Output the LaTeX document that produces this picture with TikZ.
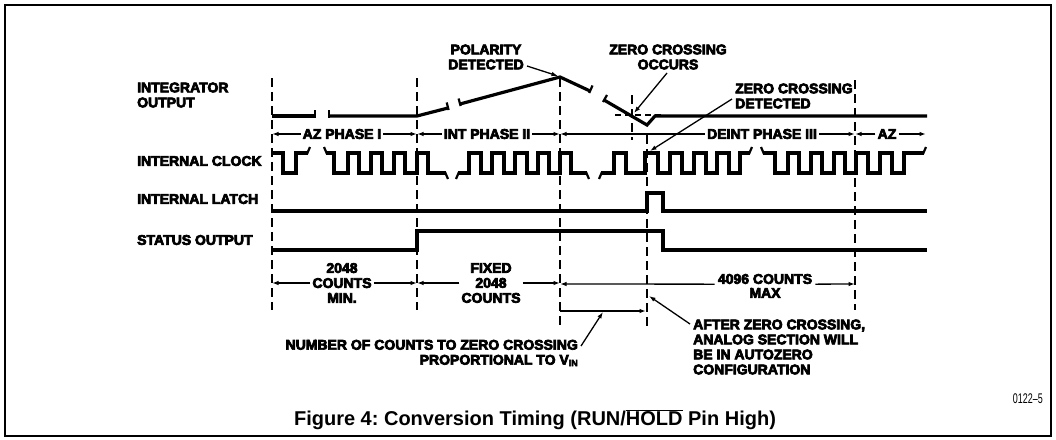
\documentclass[tikz,border=0pt]{standalone}
\usepackage{fontspec}
\usepackage{graphicx}
\setmainfont{Liberation Sans}
\newfontfamily\hv{Liberation Sans}[UprightFont={* Bold}, FakeBold=5]
\usetikzlibrary{arrows.meta,calc}
\begin{document}
\frenchspacing
\begin{tikzpicture}[x=1pt,y=-1pt,
  lab/.style={font=\hv\fontsize{14}{15}\selectfont, inner sep=0pt},
  wave/.style={line width=3.2pt, line join=miter},
  brk/.style={line width=2.2pt},
  gridl/.style={line width=1.5pt, dash pattern=on 9pt off 5pt},
  arr/.style={line width=1.3pt, -{Latex[length=6.5pt,width=4.5pt]}},
  thinl/.style={line width=1.3pt}]
\useasboundingbox (0,0) rectangle (1056,439);
\draw[line width=2pt] (5,5) rectangle (1051,436);

% ---- row labels
\node[lab, align=left, anchor=west] (lint) at (137,95) {INTEGRATOR\\OUTPUT};
\node[lab, anchor=west] (lclk) at (137,161) {INTERNAL CLOCK};
\node[lab, anchor=west] (llat) at (137,199) {INTERNAL LATCH};
\node[lab, anchor=west] (lsta) at (137,240) {STATUS OUTPUT};

% ---- dashed time markers
\coordinate (v1t) at (272,78);  \coordinate (v1b) at (272,310);
\coordinate (v2t) at (417,78);  \coordinate (v2b) at (417,310);
\coordinate (v3t) at (560,78);  \coordinate (v3b) at (560,327);
\coordinate (v4t) at (632,95);  \coordinate (v4b) at (632,140);
\coordinate (v5t) at (647,135); \coordinate (v5b) at (647,327);
\coordinate (v6t) at (855,80);  \coordinate (v6b) at (855,310);
\foreach \i in {1,...,6} {\draw[gridl] (v\i t) -- (v\i b);}

% ---- integrator output
\draw[wave] (272,116) -- (315,116);
\draw[wave] (329,116) -- (417,116) -- (448,108);
\draw[wave] (460,104) -- (560,77) -- (590,91);
\draw[wave] (604,100) -- (647,125) -- (655,116) -- (927,116);
\draw[brk] (315,110) -- (315,118);
\draw[brk] (329,110) -- (329,118);
\draw[brk] (446.7,102.5) -- (448.6,110);
\draw[brk] (458.6,98.5) -- (460.6,106);
\draw[brk] (592.5,85.5) -- (589.2,93);
\draw[brk] (607,95) -- (603,102);
\draw[line width=1.2pt, dash pattern=on 6pt off 4pt] (615,115) -- (663,115);

% ---- phase row
\node[lab, inner sep=2pt] (ph1) at (342,134) {AZ PHASE I};
\node[lab, inner sep=2pt] (ph2) at (487,134) {INT PHASE II};
\node[lab, inner sep=2pt] (ph3) at (762,134) {DEINT PHASE III};
\node[lab, inner sep=2pt] (ph4) at (887,134) {AZ};
\coordinate (p1) at (272,134); \coordinate (p2) at (417,134);
\coordinate (p3) at (560,134); \coordinate (p6) at (855,134);
\coordinate (p7) at (926,134);
\draw[arr] (ph1.west) -- (p1); \draw[arr] (ph1.east) -- (p2);
\draw[arr] (ph2.west) -- (p2); \draw[arr] (ph2.east) -- (p3);
\draw[arr] (ph3.west) -- (p3); \draw[arr] (ph3.east) -- (p6);
\draw[arr] (ph4.west) -- (p6); \draw[arr] (ph4.east) -- (p7);

% ---- internal clock
\draw[wave] (272,153) -- (283,153) -- (283,173) -- (296,173) -- (296,153) -- (308,153);
\draw[wave] (326,153) -- (334,153) -- (334,173) -- (348,173) -- (348,153) -- (359,153) -- (359,173) -- (371,173) -- (371,153) -- (382,153) -- (382,173) -- (394,173) -- (394,153) -- (405,153) -- (405,173) -- (417,173) -- (417,153) -- (428,153) -- (428,173) -- (446,173);
\draw[wave] (458,173) -- (469,173) -- (469,153) -- (481,153) -- (481,173) -- (492,173) -- (492,153) -- (504,153) -- (504,173) -- (515,173) -- (515,153) -- (527,153) -- (527,173) -- (538,173) -- (538,153) -- (549,153) -- (549,173) -- (560,173) -- (560,153) -- (571,153) -- (571,173) -- (587,173);
\draw[wave] (601,173) -- (614,173) -- (614,153) -- (626,153) -- (626,173) -- (645,173) -- (645,153) -- (658,153) -- (658,173) -- (670,173) -- (670,153) -- (682,153) -- (682,173) -- (694,173) -- (694,153) -- (706,153) -- (706,173) -- (717,173) -- (717,153) -- (729,153) -- (729,173) -- (740,173) -- (740,153) -- (750,153);
\draw[wave] (763,153) -- (775,153) -- (775,173) -- (788,173) -- (788,153) -- (799,153) -- (799,173) -- (811,173) -- (811,153) -- (822,153) -- (822,173) -- (834,173) -- (834,153) -- (845,153) -- (845,173) -- (856,173) -- (856,153) -- (868,153) -- (868,173) -- (880,173) -- (880,153) -- (892,153) -- (892,173) -- (904,173) -- (904,153) -- (924,153);
\draw[brk] (307,154) -- (310,147);
\draw[brk] (327,154) -- (324,147);
\draw[brk] (445,172) -- (448,179);
\draw[brk] (459,172) -- (456,179);
\draw[brk] (586,172) -- (589,179);
\draw[brk] (602,172) -- (599,179);
\draw[brk] (749,154) -- (752,147);
\draw[brk] (764,154) -- (761,147);
\draw[brk] (923,154) -- (926,147);

% ---- internal latch and status output
\draw[wave] (272,211) -- (647,211) -- (647,193) -- (663,193) -- (663,211) -- (927,211);
\draw[wave] (272,250) -- (417,250) -- (417,231) -- (663,231) -- (663,250) -- (927,250);

% ---- counts row
\node[lab, align=center, inner sep=2pt] (c1) at (342,283) {2048\\COUNTS\\MIN.};
\node[lab, align=center, inner sep=2pt] (c2) at (491,283) {FIXED\\2048\\COUNTS};
\node[lab] (c3) at (765,279) {4096 COUNTS};
\node[lab] (c3m) at (765,293) {MAX};
\coordinate (q1) at (272,283); \coordinate (q2) at (417,283);
\coordinate (q3) at (560,283); \coordinate (q3r) at (560,284);
\coordinate (q6) at (855,284);
\draw[arr] (c1.west) -- (q1); \draw[arr] (c1.east) -- (q2);
\draw[arr] (c2.west) -- (q2); \draw[arr] (c2.east) -- (q3);
\draw[arr] ([xshift=-3pt]c3.south west) -- (q3r);
\draw[arr] ([xshift=3pt]c3.south east) -- (q6);
\coordinate (n1) at (560,311); \coordinate (n2) at (646,311);
\draw[arr] (n1) -- (n2);

% ---- annotations
\node[lab, align=center] (pol) at (486,57) {POLARITY\\DETECTED};
\coordinate (polA) at (527,66); \coordinate (polB) at (558,76);
\draw[arr] (polA) -- (polB);

\node[lab, align=center] (zco) at (668,57) {ZERO CROSSING\\OCCURS};
\coordinate (zcoA) at (667,73); \coordinate (zcoB) at (634,113);
\draw[arr] (zcoA) -- (zcoB);

\node[lab, align=left, anchor=west] (zcd) at (735,96) {ZERO CROSSING\\DETECTED};
\coordinate (zcdA) at (732,99); \coordinate (zcdB) at (650,151);
\draw[arr] (zcdA) -- (zcdB);

\node[lab, align=right, anchor=east] (num) at (578,353) {NUMBER OF COUNTS TO ZERO CROSSING\\PROPORTIONAL TO V{\fontsize{9}{9}\selectfont\raisebox{-1.5pt}{IN}}};
\coordinate (numA) at (581,346); \coordinate (numB) at (603,312);
\draw[arr] (numA) -- (numB);

\node[lab, align=left, anchor=west] (aft) at (693,347) {AFTER ZERO CROSSING,\\ANALOG SECTION WILL\\BE IN AUTOZERO\\CONFIGURATION};
\coordinate (aftA) at (690,324); \coordinate (aftB) at (649,296);
\draw[arr] (aftA) -- (aftB);

% ---- caption and code
\node[font=\bfseries\fontsize{20}{20}\selectfont, inner sep=0pt] (cap) at (535,420) {Figure 4: Conversion Timing (RUN/$\overline{\mbox{HOLD}}$ Pin High)};
\node[anchor=east, font=\fontsize{14}{14}\selectfont, inner sep=0pt] (code) at (1043,399) {\scalebox{0.64}[1]{0122–5}};
\end{tikzpicture}
\end{document}
